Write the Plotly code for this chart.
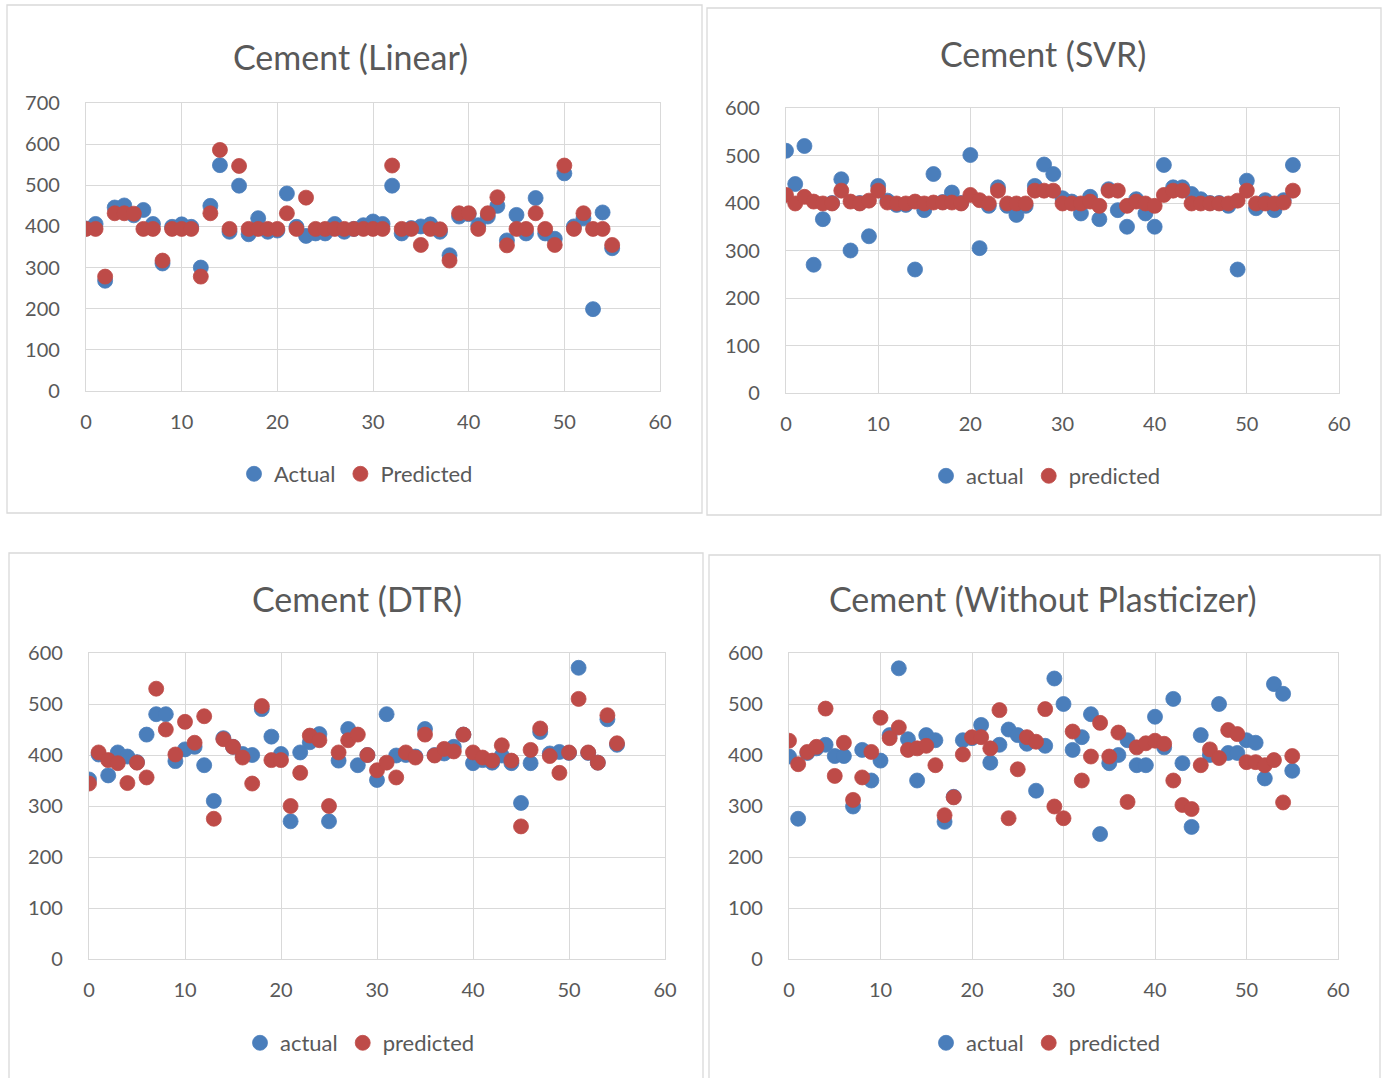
import plotly.graph_objects as go

# Sample index shared by every panel
idx = list(range(56))

# Cement (Linear)
lin_actual = [395, 406, 268, 446, 451, 427, 440, 406, 310, 399, 405, 399, 300, 450, 549, 387,
              499, 381, 420, 387, 390, 480, 399, 377, 383, 383, 406, 387, 394, 403, 412, 406,
              499, 383, 396, 400, 405, 387, 330, 424, 430, 403, 424, 450, 366, 428, 383, 469,
              383, 370, 529, 400, 420, 199, 434, 347]
lin_pred = [394, 394, 278, 432, 432, 431, 394, 394, 317, 394, 394, 394, 278, 432, 586, 394,
            547, 394, 394, 394, 394, 432, 394, 470, 394, 394, 394, 394, 394, 394, 394, 394,
            548, 394, 394, 355, 394, 393, 317, 432, 432, 394, 432, 471, 354, 394, 394, 432,
            394, 355, 548, 394, 432, 394, 394, 355]

# Cement (SVR)
svr_actual = [510, 440, 520, 270, 366, 400, 450, 300, 400, 330, 436, 405, 396, 396, 260, 385,
              461, 402, 422, 400, 501, 305, 394, 433, 394, 375, 394, 436, 481, 461, 410, 403,
              378, 413, 366, 429, 385, 350, 408, 378, 350, 480, 433, 433, 419, 408, 400, 400,
              394, 260, 447, 389, 406, 385, 406, 480]
svr_pred = [417, 399, 413, 403, 399, 399, 426, 403, 399, 405, 426, 401, 399, 399, 403, 399,
            401, 401, 401, 399, 417, 406, 399, 426, 399, 399, 399, 426, 426, 426, 399, 399,
            399, 403, 394, 426, 426, 394, 403, 399, 394, 417, 426, 426, 399, 399, 399, 399,
            399, 405, 426, 399, 399, 399, 401, 426]

# Cement (DTR)
dtr_actual = [352, 401, 360, 405, 397, 386, 440, 480, 480, 388, 411, 416, 380, 310, 433, 416,
              402, 400, 490, 436, 402, 270, 405, 425, 441, 270, 389, 451, 380, 400, 351, 480,
              399, 400, 397, 451, 400, 403, 416, 440, 384, 390, 385, 399, 384, 306, 384, 445,
              403, 406, 404, 571, 404, 385, 470, 420]
dtr_pred = [344, 405, 390, 384, 345, 385, 356, 530, 450, 401, 465, 424, 476, 275, 431, 416,
            395, 344, 496, 390, 390, 300, 365, 438, 429, 300, 405, 429, 440, 400, 370, 385,
            356, 405, 395, 440, 399, 412, 407, 440, 405, 395, 389, 419, 389, 260, 410, 452,
            398, 365, 405, 510, 405, 385, 478, 423]

# Cement (Without Plasticizer)
np_actual = [397, 275, 404, 413, 420, 398, 398, 299, 410, 350, 389, 439, 570, 431, 350, 439,
             429, 269, 318, 429, 433, 459, 385, 420, 450, 439, 422, 330, 418, 550, 500, 410,
             435, 480, 245, 384, 400, 429, 380, 380, 475, 415, 510, 384, 259, 439, 400, 500,
             404, 404, 429, 424, 354, 539, 520, 369]
np_pred = [428, 382, 406, 416, 491, 359, 424, 312, 356, 406, 473, 433, 454, 410, 413, 418,
           380, 282, 317, 401, 435, 435, 413, 488, 276, 372, 435, 426, 490, 299, 276, 446,
           350, 397, 463, 397, 444, 308, 415, 423, 428, 422, 350, 302, 294, 380, 411, 394,
           449, 441, 386, 386, 380, 390, 307, 398]

W, H = 1382, 1078
BLUE = "#4A7EBB"
RED = "#BE4B48"
TEXT = "#595959"
GRID = "#D9D9D9"
FONT = "Lato"


def px(x):
    return x / W


def py(y):
    return 1 - y / H


panels = [
    dict(title="Cement (Linear)", a=lin_actual, p=lin_pred, names=("Actual", "Predicted"),
         xdom=(86, 660), ydom=(103, 391), ymax=700, box=(7, 5, 702, 513),
         tpos=(350, 57), lpos=(356, 474)),
    dict(title="Cement (SVR)", a=svr_actual, p=svr_pred, names=("actual", "predicted"),
         xdom=(786, 1339), ydom=(108, 393), ymax=600, box=(707, 8, 1381, 515),
         tpos=(1043, 54), lpos=(1046, 476)),
    dict(title="Cement (DTR)", a=dtr_actual, p=dtr_pred, names=("actual", "predicted"),
         xdom=(89, 665), ydom=(653, 959), ymax=600, box=(9, 553, 703, 1082),
         tpos=(357, 598), lpos=(360, 1043)),
    dict(title="Cement (Without Plasticizer)", a=np_actual, p=np_pred, names=("actual", "predicted"),
         xdom=(789, 1338), ydom=(653, 959), ymax=600, box=(709, 555, 1380, 1082),
         tpos=(1043, 598), lpos=(1046, 1043)),
]

fig = go.Figure()
layout = dict(
    width=W, height=H,
    margin=dict(l=0, r=0, t=0, b=0, pad=0, autoexpand=False),
    paper_bgcolor="white", plot_bgcolor="white",
    font=dict(family=FONT, color=TEXT, size=20),
    shapes=[], annotations=[],
)

for k, pn in enumerate(panels, start=1):
    sfx = "" if k == 1 else str(k)
    leg = "legend" if k == 1 else f"legend{k}"
    for vals, name, col in ((pn["a"], pn["names"][0], BLUE), (pn["p"], pn["names"][1], RED)):
        fig.add_trace(go.Scatter(
            x=idx, y=vals, mode="markers", name=name,
            marker=dict(size=15, color=col, line=dict(width=0.8, color=col)),
            xaxis=f"x{sfx}", yaxis=f"y{sfx}", legend=leg,
        ))
    axis_common = dict(showgrid=True, gridcolor=GRID, gridwidth=1.3,
                       zeroline=True, zerolinecolor=GRID, zerolinewidth=1.3,
                       showline=True, linecolor=GRID, linewidth=1.3, mirror=True,
                       ticks="", tickfont=dict(family=FONT, size=20, color=TEXT),
                       automargin=False, fixedrange=True)
    layout[f"xaxis{sfx}"] = dict(axis_common, domain=[px(pn["xdom"][0]), px(pn["xdom"][1])],
                                 range=[0, 60], dtick=10, tick0=0,
                                 anchor=f"y{sfx}", ticklabelstandoff=13)
    layout[f"yaxis{sfx}"] = dict(axis_common, domain=[py(pn["ydom"][1]), py(pn["ydom"][0])],
                                 range=[0, pn["ymax"]], dtick=100, tick0=0,
                                 anchor=f"x{sfx}", ticklabelstandoff=21)
    layout[leg] = dict(orientation="h", x=px(pn["lpos"][0]), y=py(pn["lpos"][1]),
                       xanchor="center", yanchor="middle", bgcolor="rgba(0,0,0,0)",
                       font=dict(family=FONT, size=22, color=TEXT),
                       itemwidth=30, tracegroupgap=0)
    x0, y0, x1, y1 = pn["box"]
    layout["shapes"].append(dict(type="rect", xref="paper", yref="paper",
                                 x0=px(x0), x1=px(x1), y0=py(y1), y1=py(y0),
                                 line=dict(color=GRID, width=1.3), fillcolor="rgba(0,0,0,0)",
                                 layer="below"))
    layout["annotations"].append(dict(text=pn["title"], xref="paper", yref="paper",
                                      x=px(pn["tpos"][0]), y=py(pn["tpos"][1]),
                                      xanchor="center", yanchor="middle", showarrow=False,
                                      font=dict(family=FONT, size=34, color=TEXT)))

fig.update_layout(**layout)
fig.write_html("out.html")
